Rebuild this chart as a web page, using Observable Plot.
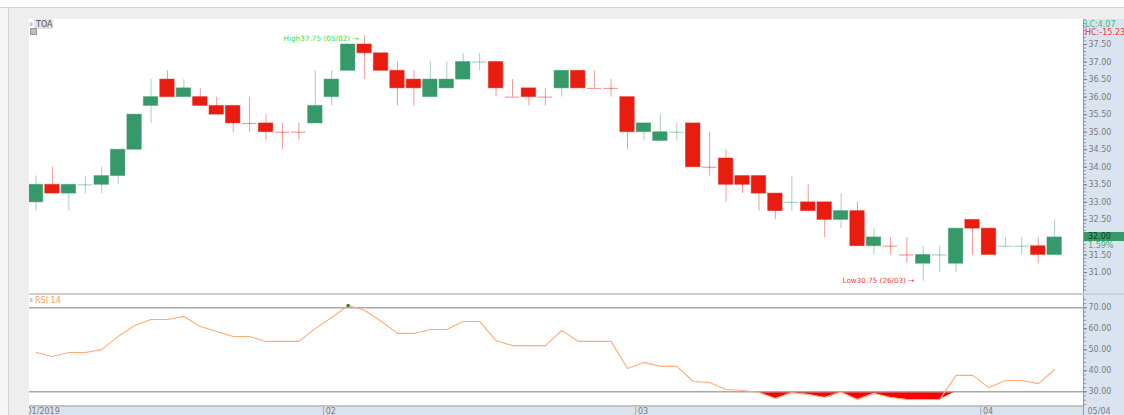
<!DOCTYPE html>
<html><head><meta charset="utf-8">
<script src="https://cdn.jsdelivr.net/npm/d3@7"></script>
<script src="https://cdn.jsdelivr.net/npm/@observablehq/plot@0.6"></script>
<style>
html,body{margin:0;padding:0;background:#fff;}
#root{position:relative;width:1124px;height:415px;overflow:hidden;font-family:"DejaVu Sans",Verdana,sans-serif;background:#fff;}
.abs{position:absolute;}
#root svg{position:absolute;left:0;overflow:visible;}
</style></head><body><div id="root"></div>
<script>
// ---------- data ----------
const dates = [
 "2019-01-08","2019-01-09","2019-01-10","2019-01-11","2019-01-14","2019-01-15","2019-01-16","2019-01-17","2019-01-18",
 "2019-01-21","2019-01-22","2019-01-23","2019-01-24","2019-01-25","2019-01-28","2019-01-29","2019-01-30","2019-01-31",
 "2019-02-01","2019-02-04","2019-02-05","2019-02-06","2019-02-07","2019-02-08","2019-02-11","2019-02-12","2019-02-13",
 "2019-02-14","2019-02-15","2019-02-18","2019-02-20","2019-02-21","2019-02-22","2019-02-25","2019-02-26","2019-02-27","2019-02-28",
 "2019-03-01","2019-03-04","2019-03-05","2019-03-06","2019-03-07","2019-03-08","2019-03-11","2019-03-12","2019-03-13",
 "2019-03-14","2019-03-15","2019-03-18","2019-03-19","2019-03-20","2019-03-21","2019-03-22","2019-03-25","2019-03-26",
 "2019-03-27","2019-03-28","2019-03-29","2019-04-01","2019-04-02","2019-04-03","2019-04-04","2019-04-05"
];
const opens  = [33.0,33.5,33.25,33.5,33.5,33.75,34.5,35.75,36.5,36.0,36.0,35.75,35.75,35.25,35.25,35.0,35.0,35.25,36.0,36.75,37.5,37.25,36.75,36.5,36.0,36.25,36.5,37.0,37.0,36.0,36.25,36.0,36.25,36.75,36.25,36.25,36.0,35.0,34.75,35.0,35.25,34.0,34.25,33.75,33.75,33.25,33.0,33.0,33.0,32.5,32.75,31.75,31.75,31.5,31.25,31.5,31.25,32.5,32.25,31.75,31.75,31.75,31.5];
const highs  = [33.75,34.0,33.5,33.75,34.0,34.5,35.5,36.5,36.75,36.5,36.25,36.0,35.75,36.0,35.5,35.25,35.25,36.75,36.75,37.5,37.75,37.25,37.0,36.75,37.0,37.0,37.25,37.25,37.0,36.5,36.25,36.25,36.75,36.75,36.75,36.5,36.0,35.25,35.5,35.25,35.25,35.0,34.5,33.75,33.75,33.25,33.75,33.5,33.0,33.25,33.0,32.25,32.0,32.0,31.75,31.75,32.25,32.5,32.25,32.0,32.0,32.0,32.5];
const lows   = [32.75,33.25,32.75,33.25,33.25,33.5,34.5,35.25,36.0,36.0,35.75,35.5,35.0,35.0,34.75,34.5,34.75,35.25,35.75,36.75,36.5,36.75,35.75,35.75,36.0,36.25,36.5,36.75,36.0,36.0,35.75,35.75,36.0,36.25,36.25,36.0,34.5,34.75,34.75,34.75,34.0,33.75,33.0,33.25,32.75,32.5,32.75,32.75,32.0,32.25,31.75,31.5,31.5,31.25,30.75,31.0,31.0,31.5,31.5,31.75,31.5,31.25,31.5];
const closes = [33.5,33.25,33.5,33.5,33.75,34.5,35.5,36.0,36.0,36.25,35.75,35.5,35.25,35.25,35.0,35.0,35.0,35.75,36.5,37.5,37.25,36.75,36.25,36.25,36.5,36.5,37.0,37.0,36.25,36.0,36.0,36.0,36.75,36.25,36.25,36.25,35.0,35.25,35.0,35.0,34.0,34.0,33.5,33.5,33.25,32.75,33.0,32.75,32.5,32.75,31.75,32.0,31.75,31.5,31.5,31.5,32.25,32.25,31.5,31.75,31.75,31.5,32.0];
// candle direction as shown (u = rising, d = falling), also for unchanged candles
const directions = ["u","d","u","u","u","u","u","u","d","u","d","d","d","d","d","d","d","u","u","u","d","d","d","d","u","u","u","u","d","d","d","d","u","d","d","d","d","u","u","u","d","d","d","d","d","d","u","d","d","u","d","u","d","d","u","u","u","d","d","u","u","d","u"];
const rsiValues = [48.7,46.8,48.7,48.7,50.1,56.3,61.6,64.4,64.4,65.9,61.1,58.7,56.3,56.3,54.0,54.0,54.0,60.1,65.4,71.1,68.8,63.6,57.8,57.8,59.7,59.7,63.5,63.5,54.4,52.0,52.0,52.0,59.2,54.0,54.0,54.0,41.1,44.0,42.1,42.1,34.9,34.4,31.1,30.6,29.7,26.8,29.5,28.7,27.3,29.8,26.3,29.2,27.3,26.3,26.3,26.3,37.8,37.8,32.0,35.4,35.4,33.9,40.6];
const priceTicks = [31.0,31.5,32.0,32.5,33.0,33.5,34.0,34.5,35.0,35.5,36.0,36.5,37.0,37.5];
const rsiTicks = [30,40,50,60,70];
const rsiLevels = [30,70];
const monthStarts = ["2019-02-01","2019-03-01","2019-04-01"];
const monthLabels = ["02","03","04"];
const startLabel = "01/2019";
const endLabel = "05/04";
const symbolName = "TOA";
const indicatorName = "RSI 14";
const lcText = "LC:4.07";
const hcText = "HC:-15.23";
const changeText = "1.59%";

// ---------- build ----------
const UP = "#35996a", DOWN = "#e81c0f";
const candles = dates.map((date, i) => ({date, open: opens[i], high: highs[i], low: lows[i], close: closes[i], dir: directions[i]}));
const col = d => d.dir === "u" ? UP : DOWN;
const bodies = candles.filter(d => d.open !== d.close);
const dojis = candles.filter(d => d.open === d.close);
const rsiData = dates.map((date, i) => ({date, rsi: rsiValues[i]}));
const hi = candles.reduce((a, b) => b.high > a.high ? b : a);
const lo = candles.reduce((a, b) => b.low < a.low ? b : a);
const ddmm = s => s.slice(8, 10) + "/" + s.slice(5, 7);
const last = candles[candles.length - 1];

const FONT = '"DejaVu Sans", Verdana, sans-serif';
const xOpts = {type: "band", domain: dates, range: [27.3, 1062.4], paddingInner: 0.12, paddingOuter: 0.06, round: false, axis: null};
const baseStyle = {background: "transparent", fontFamily: FONT, fontSize: "8px", color: "#777", overflow: "visible"};

const root = document.getElementById("root");
function box(l, t, w, h, css) {
  const d = document.createElement("div");
  d.className = "abs";
  Object.assign(d.style, {left: l + "px", top: t + "px", width: w + "px", height: h + "px"}, css || {});
  root.appendChild(d);
  return d;
}
function label(l, t, txt, css) {
  const d = document.createElement("div");
  d.className = "abs";
  d.textContent = txt;
  Object.assign(d.style, {left: l + "px", top: t + "px", fontSize: "8px", lineHeight: "9px", whiteSpace: "nowrap", fontFamily: FONT}, css || {});
  root.appendChild(d);
  return d;
}

// backgrounds
box(1083, 19, 41, 396, {background: "#dae4f0"});
box(29, 406, 1054, 9, {background: "#d8e3ef"});

const minorPrice = d3.range(30.4, 38.21, 0.1);
const price = Plot.plot({
  width: 1124, height: 294, marginLeft: 29, marginRight: 41, marginTop: 19, marginBottom: 0,
  style: baseStyle,
  x: xOpts,
  y: {domain: [30.373, 38.213], axis: null},
  marks: [
    Plot.ruleX(candles, {x: "date", y1: "low", y2: "high", stroke: col, strokeOpacity: 0.45, strokeWidth: 1}),
    Plot.barY(bodies, {x: "date", y1: "open", y2: "close", fill: col, stroke: col, strokeOpacity: 0.45, strokeWidth: 1}),
    Plot.tickY(dojis, {x: "date", y: "close", stroke: col, strokeOpacity: 0.5, strokeWidth: 1}),
    Plot.text([hi], {x: "date", y: "high", text: d => `High${d.high.toFixed(2)} (${ddmm(d.date)}) \u2192`, textAnchor: "end", dx: -6, dy: 3, fill: "#36e036", fontSize: 7.3}),
    Plot.text([lo], {x: "date", y: "low", text: d => `Low${d.low.toFixed(2)} (${ddmm(d.date)}) \u2192`, textAnchor: "end", dx: -9, dy: -1, fill: "#f03a34", fontSize: 7.2}),
    Plot.axisY({anchor: "right", ticks: minorPrice, tickSize: 2, tickFormat: () => "", label: null, color: "#999"}),
    Plot.axisY({anchor: "right", ticks: priceTicks, tickFormat: d3.format(".2f"), tickSize: 3, tickPadding: 2, label: null, color: "#7a7a7a"})
  ]
});
price.style.top = "0px";
root.appendChild(price);

const minorRsi = d3.range(24, 76, 2);
const rsiPlot = Plot.plot({
  width: 1124, height: 112, marginLeft: 29, marginRight: 41, marginTop: 1, marginBottom: 0,
  style: baseStyle,
  x: xOpts,
  y: {domain: [23.0, 75.86], axis: null},
  marks: [
    Plot.areaY(rsiData, {x: "date", y1: 30, y2: d => Math.min(30, d.rsi), fill: "#ff0000"}),
    Plot.ruleY(rsiLevels, {stroke: "#a9a9a9", strokeWidth: 1.4}),
    Plot.line(rsiData, {x: "date", y: "rsi", stroke: "#ffab7a", strokeWidth: 1.1}),
    Plot.dot(rsiData.filter(d => d.rsi > 70), {x: "date", y: "rsi", r: 1.8, fill: "#2e8b2e"}),
    Plot.axisY({anchor: "right", ticks: minorRsi, tickSize: 2, tickFormat: () => "", label: null, color: "#999"}),
    Plot.axisY({anchor: "right", ticks: rsiTicks, tickFormat: d3.format(".2f"), tickSize: 3, tickPadding: 2, label: null, color: "#7a7a7a"})
  ]
});
rsiPlot.style.top = "294px";
root.appendChild(rsiPlot);

const strip = Plot.plot({
  width: 1124, height: 9, marginLeft: 29, marginRight: 41, marginTop: 0, marginBottom: 0,
  style: baseStyle,
  x: xOpts,
  marks: [
    Plot.tickX(monthStarts, {x: d => d, dx: -8.2, stroke: "#aaa"}),
    Plot.text(monthStarts, {x: d => d, text: (d, i) => monthLabels[i], textAnchor: "start", dx: -6, dy: 0.5, fill: "#7a7a7a", fontSize: 8}),
    Plot.text([dates[0]], {x: d => d, text: () => startLabel, textAnchor: "start", dx: -9.5, dy: 0.5, fill: "#7a7a7a", fontSize: 8}),
    Plot.text([endLabel], {frameAnchor: "right", text: d => d, textAnchor: "start", dx: 4, dy: 0.5, fill: "#7a7a7a", fontSize: 8})
  ]
});
strip.style.top = "406px";
root.appendChild(strip);

// frame decorations
box(0, 7, 1124, 1, {background: "#d4d4d4"});
box(9, 8, 1115, 11, {background: "#efefef"});
box(0, 8, 8, 407, {background: "#f6f6f6"});
box(8, 7, 1, 408, {background: "#d0d0d0"});
box(9, 8, 20, 407, {background: "#eeeeee"});
box(1083, 19, 1, 396, {background: "#9a9a9a"});
box(29, 293, 1095, 2, {background: "#cfcfcf"});
box(29, 405, 1054, 1.5, {background: "#c4c4c4"});

// labels
box(34, 19, 19, 10, {background: "#e3e3e3"});
label(36, 19.5, symbolName, {color: "#555"});
label(29.5, 19.5, "8", {color: "#888", fontSize: "5px"});
box(30, 28, 7, 7, {background: "#bdbdbd", border: "1px solid #999", boxSizing: "border-box"});
label(29.5, 295.5, "8", {color: "#888", fontSize: "5px"});
label(35, 295.5, indicatorName, {color: "#ff9a5c"});
label(1085, 19.5, lcText, {color: "#3dbb82"});
label(1085, 28, hcText, {color: "#e83a3a"});

// last price marker positioned through the price scale
const yLast = price.scale("y").apply(last.close);
box(1084, yLast - 4.5, 40, 9, {background: UP});
label(1088, yLast - 4.5, d3.format(".2f")(last.close), {color: "#153a25"});
label(1088, yLast + 4, changeText, {color: "#3aaa6a"});
</script>
</body></html>
